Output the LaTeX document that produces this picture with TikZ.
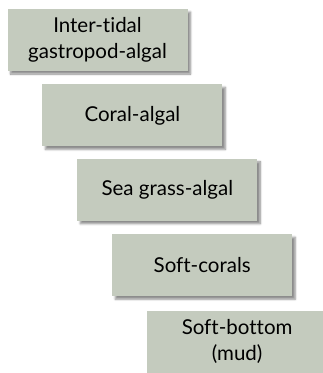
\documentclass[tikz,border=0pt]{standalone}
\usepackage{fontspec}
\setmainfont{Lato}[Ligatures={NoCommon}]
\usetikzlibrary{positioning, shadows.blur}
\definecolor{reefgreen}{RGB}{196,203,190}

\begin{document}
\begin{tikzpicture}[x=1pt, y=1pt,
  zone/.style = {fill=reefgreen, minimum width=180pt, minimum height=62pt, inner sep=0pt, align=center,
                 font=\fontsize{20.5}{26}\selectfont,
                 blur shadow={shadow xshift=3pt, shadow yshift=-3pt, shadow blur steps=6, shadow opacity=45}}]

\useasboundingbox (0,0) rectangle (323,-373);

%--- Zones ---
% intertidal
\node[zone] (intertidal) at (97.5,-40) {Inter-tidal\\gastropod-algal};

% coral
\node[zone, below right=13pt and -145.5pt of intertidal] (coral) {Coral-algal};

% seagrass
\node[zone, below right=12pt and -145.5pt of coral] (seagrass) {Sea grass-algal};

% softcoral
\node[zone, below right=13pt and -145.5pt of seagrass] (softcoral) {Soft-corals};

% softbottom
\node[zone, below right=14pt and -145.5pt of softcoral] (softbottom) {Soft-bottom\\(mud)};

\end{tikzpicture}
\end{document}
